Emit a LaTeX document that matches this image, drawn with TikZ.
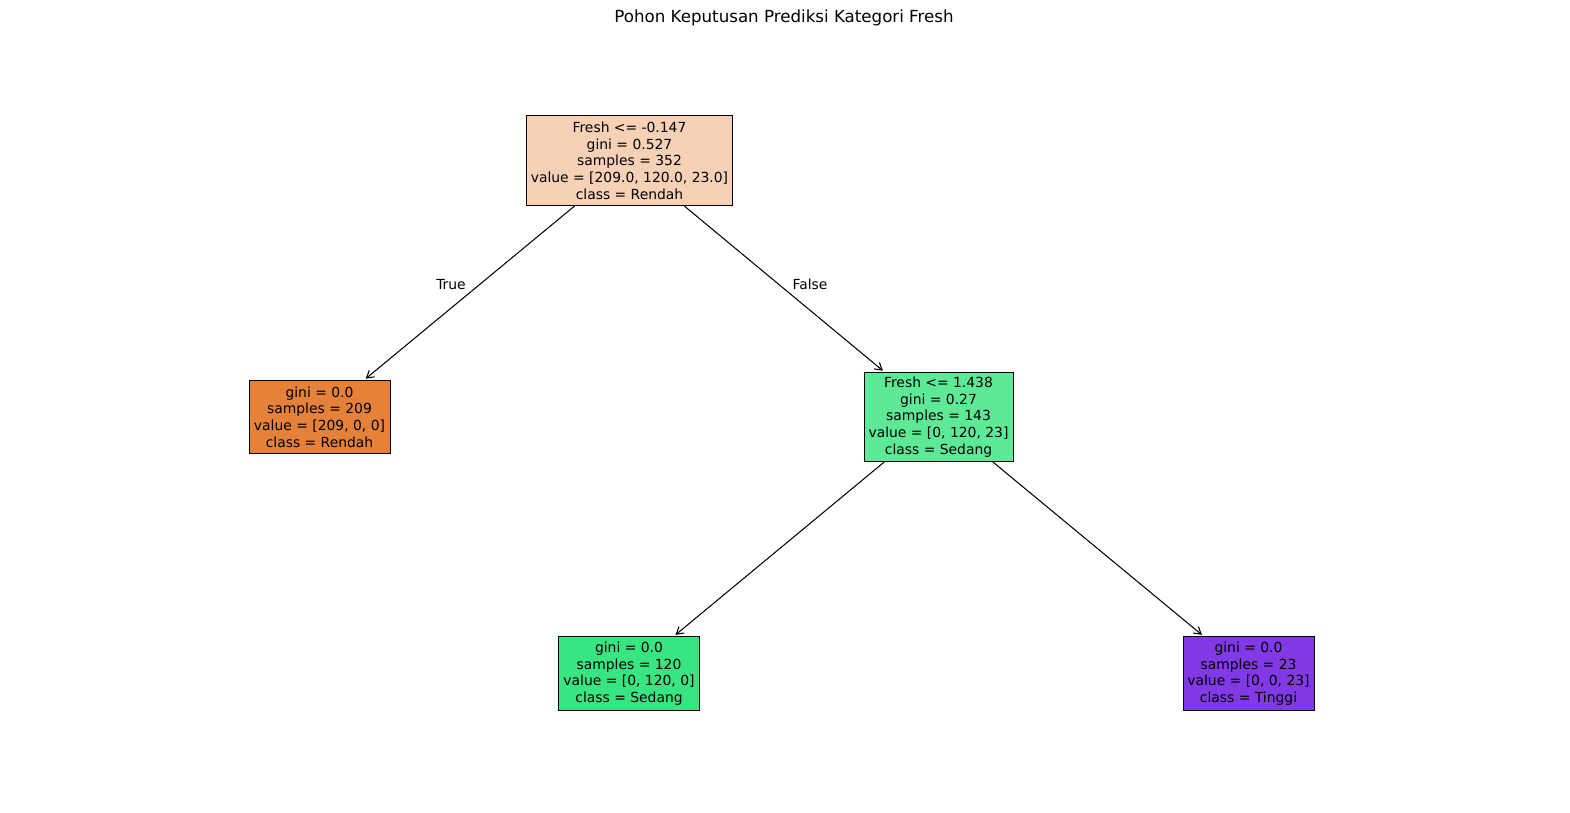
\documentclass[tikz,border=0pt]{standalone}
\usepackage{fontspec}
\setmainfont{DejaVu Sans}
\usetikzlibrary{arrows.meta}
\definecolor{cRoot}{HTML}{F6D1B6}
\definecolor{cRendah}{HTML}{E58139}
\definecolor{cSedangI}{HTML}{5EE997}
\definecolor{cSedang}{HTML}{39E581}
\definecolor{cTinggi}{HTML}{8139E5}
\tikzset{
  treebox/.style={draw=black, line width=0.7pt, rectangle, inner sep=0pt, align=center,
    font=\fontsize{10}{12}\selectfont},
  edgearr/.style={line width=0.75pt, -{Straight Barb[length=5pt,width=6pt]}, shorten >=1.5pt},
  edgelab/.style={font=\fontsize{10}{12}\selectfont, inner sep=0pt}
}
\begin{document}
\begin{tikzpicture}[x=0.72pt,y=-0.72pt]
\useasboundingbox (0,0) rectangle (1570,812);
\node[font=\fontsize{12}{14}\selectfont] (title) at (784,18) {Pohon Keputusan Prediksi Kategori Fresh};
\node[treebox, fill=cRoot, minimum width=149pt, minimum height=64.8pt] (root) at (629.5,160.5)
  {Fresh <= -0.147\\gini = 0.527\\samples = 352\\value = [209.0, 120.0, 23.0]\\class = Rendah};
\node[treebox, fill=cRendah, minimum width=101.5pt, minimum height=52.6pt] (left) at (319.5,417)
  {gini = 0.0\\samples = 209\\value = [209, 0, 0]\\class = Rendah};
\node[treebox, fill=cSedangI, minimum width=107.3pt, minimum height=64pt] (right) at (938.5,417)
  {Fresh <= 1.438\\gini = 0.27\\samples = 143\\value = [0, 120, 23]\\class = Sedang};
\node[treebox, fill=cSedang, minimum width=102pt, minimum height=53pt] (rl) at (629,673.5)
  {gini = 0.0\\samples = 120\\value = [0, 120, 0]\\class = Sedang};
\node[treebox, fill=cTinggi, minimum width=94.3pt, minimum height=53pt] (rr) at (1248.5,673.5)
  {gini = 0.0\\samples = 23\\value = [0, 0, 23]\\class = Tinggi};
\draw[edgearr] (root) -- (left);
\draw[edgearr] (root) -- (right);
\draw[edgearr] (right) -- (rl);
\draw[edgearr] (right) -- (rr);
\node[edgelab] (truelab) at (451,284.5) {True};
\node[edgelab] (falselab) at (810,284.5) {False};
\end{tikzpicture}
\end{document}
